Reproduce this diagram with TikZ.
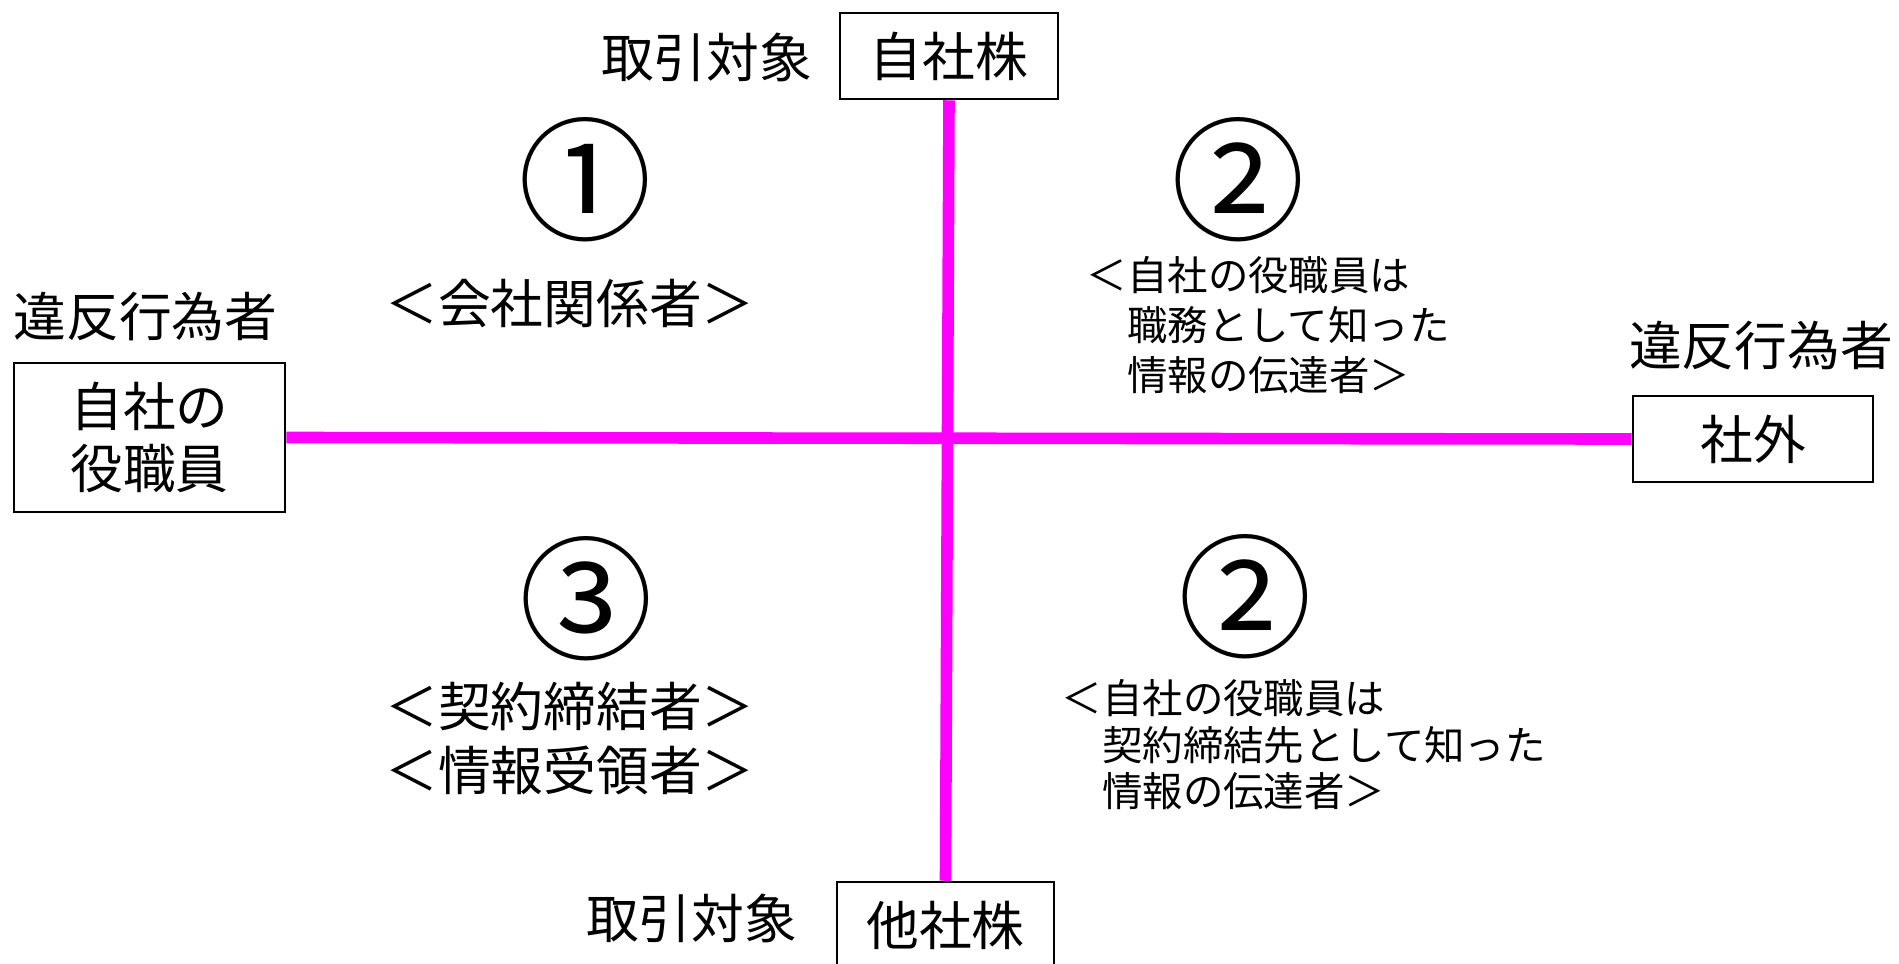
\documentclass[tikz,border=0pt]{standalone}
\usepackage{fontspec}
\setmainfont{Noto Sans CJK JP}
\definecolor{axispink}{RGB}{255,0,255}
\begin{document}
\begin{tikzpicture}[x=0.01cm,y=-0.01cm,
  box/.style={draw=black, line width=0.7pt, fill=white, inner sep=0pt, align=center, font=\fontsize{15}{17.4}\selectfont},
  lbl/.style={inner sep=0pt, font=\fontsize{15}{18}\selectfont},
  axis/.style={draw=axispink, line width=3.3pt},
  num/.style={inner sep=0pt, font=\fontsize{38}{40}\selectfont},
  desc/.style={inner sep=0pt, align=left, anchor=west},
  grp/.style={inner sep=0pt, align=center, font=\fontsize{15}{18.2}\selectfont}
]
\useasboundingbox (0,0) rectangle (1899,963);
% boxes
\node[box, minimum width=2.18cm, minimum height=0.86cm] (top) at (949,56) {自社株};
\node[box, minimum width=2.17cm, minimum height=0.86cm] (bot) at (945.5,925) {他社株};
\node[box, minimum width=2.71cm, minimum height=1.49cm] (left) at (149.5,437.5) {自社の\\役職員};
\node[box, minimum width=2.40cm, minimum height=0.86cm] (right) at (1753,439) {社外};
% axes
\draw[axis] (left.east) -- (right.west);
\draw[axis] (top.south) -- (bot.north);
% labels
\node[lbl] (ttop) at (706.5,57) {取引対象};
\node[lbl] (tbot) at (691.5,918) {取引対象};
\node[lbl] (vleft) at (145.5,316.5) {違反行為者};
\node[lbl] (vright) at (1761,345) {違反行為者};
% numbers
\node[num] (n1) at (585,180) {①};
\node[num] (n2a) at (1238,180) {②};
\node[num] (n3) at (586,599) {③};
\node[num] (n2b) at (1245,597) {②};
% descriptions
\node[grp] (d1) at (570,304) {＜会社関係者＞};
\node[grp] (d3) at (570,738) {＜契約締結者＞\\＜情報受領者＞};
\node[desc, font=\fontsize{11.5}{14.2}\selectfont] (d2a) at (1086,325) {＜自社の役職員は\\　職務として知った\\　情報の伝達者＞};
\node[desc, font=\fontsize{11.5}{13.2}\selectfont] (d2b) at (1061,745) {＜自社の役職員は\\　契約締結先として知った\\　情報の伝達者＞};
\end{tikzpicture}
\end{document}
